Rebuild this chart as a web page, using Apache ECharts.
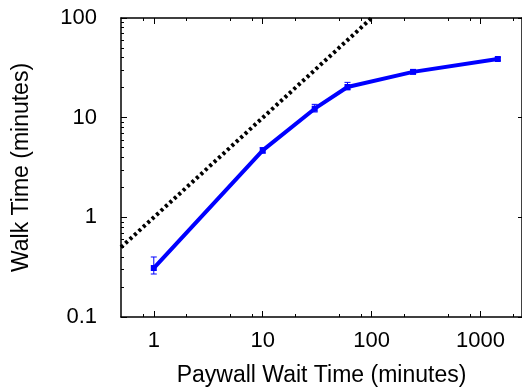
<!DOCTYPE html>
<html>
<head>
<meta charset="utf-8">
<script src="https://cdn.jsdelivr.net/npm/echarts@6/dist/echarts.min.js"></script>
<style>
  html, body { margin: 0; padding: 0; background: #fff; }
  #chart { width: 522px; height: 392px; }
</style>
</head>
<body>
<div id="chart"></div>
<script>
// ======================
// DATA
// ======================
const waitTimes = [1, 10, 30, 60, 240, 1440];
const walkTimes = [0.31, 4.7, 12.3, 20.3, 28.8, 38.8];
const walkLow   = [0.27, 4.4, 11.4, 19.0, 27.6, 37.6];
const walkHigh  = [0.40, 5.0, 13.6, 22.6, 30.0, 40.0];

// y = x reference line end points
const refLine = [[0.5, 0.5], [100, 100]];

const xMajor = [1, 10, 100, 1000];
const xMinor = [0.8, 2, 5, 8, 20, 50, 80, 200, 500, 800, 2000];
const yMajor = [0.1, 1, 10, 100];
const yMinor = [0.2, 0.3, 0.4, 0.5, 0.6, 0.7, 0.8, 0.9,
                2, 3, 4, 5, 6, 7, 8, 9,
                20, 30, 40, 50, 60, 70, 80, 90];

// ======================
// STYLE
// ======================
const FONT = "'Liberation Sans', Arial, sans-serif";
const BLUE = "#0000ff";
const X_RANGE = { min: 0.5, max: 2400 };
const Y_RANGE = { min: 0.1, max: 100 };

function tickAxis(position, values, len, showLine) {
    return {
        type: "log",
        position: position,
        ...(position === "bottom" || position === "top" ? X_RANGE : Y_RANGE),
        axisLine: { show: showLine, onZero: false, lineStyle: { color: "#000", width: 1.5 } },
        axisTick: { show: true, inside: true, length: len, customValues: values,
                    lineStyle: { color: "#000", width: 1 } },
        axisLabel: { show: false },
        splitLine: { show: false },
        minorTick: { show: false }
    };
}

const chart = echarts.init(document.getElementById("chart"));

chart.setOption({
    animation: false,
    backgroundColor: "#fff",
    textStyle: { fontFamily: FONT },
    grid: { left: 121, top: 18, width: 402, height: 299 },
    xAxis: [
        {
            ...tickAxis("bottom", xMajor, 6, true),
            name: "Paywall Wait Time (minutes)",
            nameLocation: "middle",
            nameGap: 47,
            nameTextStyle: { fontSize: 23, color: "#000", fontFamily: FONT },
            axisLabel: {
                show: true, customValues: xMajor, margin: 13,
                fontSize: 22, color: "#000", fontFamily: FONT,
                formatter: v => String(v)
            }
        },
        tickAxis("bottom", xMinor, 3, false),
        tickAxis("top", xMajor, 6, true),
        tickAxis("top", xMinor, 3, false)
    ],
    yAxis: [
        {
            ...tickAxis("left", yMajor, 6, true),
            name: "Walk Time (minutes)",
            nameLocation: "middle",
            nameGap: 88,
            nameTextStyle: { fontSize: 23, color: "#000", fontFamily: FONT },
            axisLabel: {
                show: true, customValues: yMajor, margin: 24,
                fontSize: 22, color: "#000", fontFamily: FONT,
                formatter: v => String(v)
            }
        },
        tickAxis("left", yMinor, 3, false),
        tickAxis("right", yMajor, 4, true)
    ],
    series: [
        {
            type: "line",
            data: refLine,
            symbol: "none",
            lineStyle: { color: "#000", width: 4, type: [3, 3], cap: "butt" },
            z: 2
        },
        {
            type: "line",
            data: waitTimes.map((x, i) => [x, walkTimes[i]]),
            symbol: "rect",
            symbolSize: 6,
            itemStyle: { color: BLUE },
            lineStyle: { color: BLUE, width: 4 },
            z: 3
        },
        {
            type: "custom",
            data: waitTimes.map((x, i) => [x, walkLow[i], walkHigh[i]]),
            renderItem: (params, api) => {
                const lo = api.coord([api.value(0), api.value(1)]);
                const hi = api.coord([api.value(0), api.value(2)]);
                const w = 3;
                const style = { stroke: BLUE, lineWidth: 1 };
                return {
                    type: "group",
                    children: [
                        { type: "line", shape: { x1: lo[0], y1: lo[1], x2: hi[0], y2: hi[1] }, style },
                        { type: "line", shape: { x1: lo[0] - w, y1: lo[1], x2: lo[0] + w, y2: lo[1] }, style },
                        { type: "line", shape: { x1: hi[0] - w, y1: hi[1], x2: hi[0] + w, y2: hi[1] }, style }
                    ]
                };
            },
            z: 4
        }
    ]
});
</script>
</body>
</html>
